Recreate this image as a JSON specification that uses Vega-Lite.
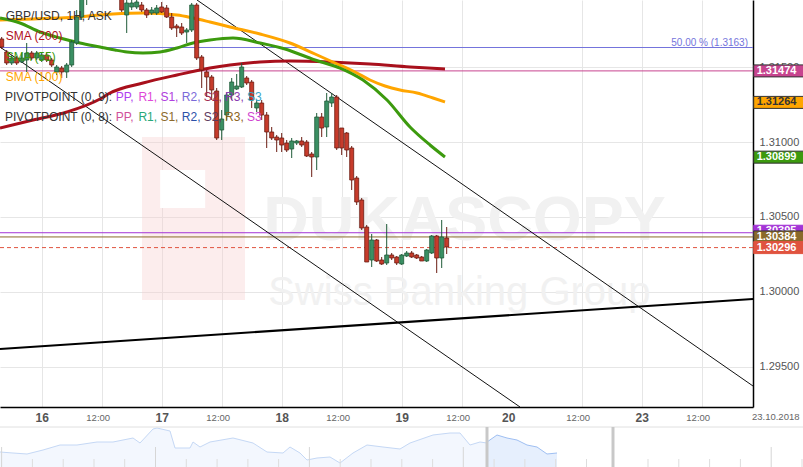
{
"$schema": "https://vega.github.io/schema/vega-lite/v6.json",
"width": 753, "height": 407,
"autosize": {"type": "none"},
"padding": {"left": 0, "top": 0, "right": 50, "bottom": 60},
"background": "white",
"config": {"view": {"stroke": null}, "font": "Liberation Sans"},
"datasets": {
"candles": [
{"h":-8,"o":1.316867,"hi":1.317,"lo":1.3162,"c":1.316333},
{"h":-7,"o":1.316,"hi":1.316133,"lo":1.315133,"c":1.315267},
{"h":-6,"o":1.315267,"hi":1.3158,"lo":1.315133,"c":1.3156},
{"h":-5,"o":1.3156,"hi":1.315733,"lo":1.315133,"c":1.315267},
{"h":-4,"o":1.315333,"hi":1.315933,"lo":1.315267,"c":1.3156},
{"h":-3,"o":1.315467,"hi":1.3166,"lo":1.314667,"c":1.315933},
{"h":-2,"o":1.315933,"hi":1.316067,"lo":1.315467,"c":1.3156},
{"h":-1,"o":1.3156,"hi":1.316067,"lo":1.315467,"c":1.315933},
{"h":0,"o":1.315467,"hi":1.315933,"lo":1.315333,"c":1.3158},
{"h":1,"o":1.3158,"hi":1.315933,"lo":1.315333,"c":1.315467},
{"h":2,"o":1.315467,"hi":1.3156,"lo":1.315,"c":1.315133},
{"h":3,"o":1.314667,"hi":1.315133,"lo":1.314467,"c":1.315},
{"h":4,"o":1.314933,"hi":1.315067,"lo":1.314267,"c":1.314667},
{"h":5,"o":1.314667,"hi":1.315267,"lo":1.314267,"c":1.315133},
{"h":6,"o":1.315133,"hi":1.3168,"lo":1.315,"c":1.316667},
{"h":7,"o":1.3166,"hi":1.3188,"lo":1.316467,"c":1.318333},
{"h":8,"o":1.318333,"hi":1.320467,"lo":1.318133,"c":1.3198},
{"h":9,"o":1.3198,"hi":1.321467,"lo":1.319133,"c":1.3208},
{"h":10,"o":1.3208,"hi":1.3218,"lo":1.3203,"c":1.3212},
{"h":11,"o":1.3212,"hi":1.3216,"lo":1.3202,"c":1.3207},
{"h":12,"o":1.3207,"hi":1.3219,"lo":1.3204,"c":1.3214},
{"h":13,"o":1.3214,"hi":1.3217,"lo":1.3203,"c":1.3209},
{"h":14,"o":1.3209,"hi":1.3215,"lo":1.3201,"c":1.3211},
{"h":15,"o":1.3211,"hi":1.3213,"lo":1.3197,"c":1.32},
{"h":16,"o":1.3198,"hi":1.320133,"lo":1.318667,"c":1.3188},
{"h":17,"o":1.318467,"hi":1.319667,"lo":1.317267,"c":1.319267},
{"h":18,"o":1.319,"hi":1.319467,"lo":1.3188,"c":1.319267},
{"h":19,"o":1.319,"hi":1.319467,"lo":1.318867,"c":1.319333},
{"h":20,"o":1.319133,"hi":1.319333,"lo":1.318667,"c":1.3188},
{"h":21,"o":1.3188,"hi":1.318933,"lo":1.318267,"c":1.318467},
{"h":22,"o":1.3186,"hi":1.319,"lo":1.318467,"c":1.3188},
{"h":23,"o":1.3186,"hi":1.319133,"lo":1.318467,"c":1.318933},
{"h":24,"o":1.319,"hi":1.319333,"lo":1.3186,"c":1.318667},
{"h":25,"o":1.318933,"hi":1.319133,"lo":1.318267,"c":1.318333},
{"h":26,"o":1.318333,"hi":1.3186,"lo":1.317467,"c":1.3176},
{"h":27,"o":1.317733,"hi":1.317867,"lo":1.317,"c":1.3176},
{"h":28,"o":1.317667,"hi":1.317933,"lo":1.317133,"c":1.317267},
{"h":29,"o":1.317333,"hi":1.3176,"lo":1.3166,"c":1.317467},
{"h":30,"o":1.317467,"hi":1.319267,"lo":1.317333,"c":1.319133},
{"h":31,"o":1.319133,"hi":1.319267,"lo":1.315467,"c":1.3156},
{"h":32,"o":1.315667,"hi":1.3158,"lo":1.3136,"c":1.3148},
{"h":33,"o":1.314667,"hi":1.3148,"lo":1.313,"c":1.314333},
{"h":34,"o":1.314333,"hi":1.314467,"lo":1.3128,"c":1.313467},
{"h":35,"o":1.3134,"hi":1.3136,"lo":1.310133,"c":1.310267},
{"h":36,"o":1.3108,"hi":1.312133,"lo":1.310133,"c":1.311533},
{"h":37,"o":1.3118,"hi":1.313267,"lo":1.311467,"c":1.313133},
{"h":38,"o":1.313133,"hi":1.314267,"lo":1.3128,"c":1.314},
{"h":39,"o":1.313533,"hi":1.314533,"lo":1.313467,"c":1.313733},
{"h":40,"o":1.313667,"hi":1.315267,"lo":1.3136,"c":1.315},
{"h":41,"o":1.314267,"hi":1.3144,"lo":1.3138,"c":1.313933},
{"h":42,"o":1.314,"hi":1.314133,"lo":1.312267,"c":1.3128},
{"h":43,"o":1.312267,"hi":1.3128,"lo":1.312,"c":1.3126},
{"h":44,"o":1.3126,"hi":1.3128,"lo":1.311467,"c":1.3118},
{"h":45,"o":1.3118,"hi":1.312,"lo":1.3096,"c":1.310667},
{"h":46,"o":1.310667,"hi":1.311,"lo":1.310133,"c":1.310267},
{"h":47,"o":1.310333,"hi":1.310467,"lo":1.309333,"c":1.310133},
{"h":48,"o":1.310267,"hi":1.3106,"lo":1.309333,"c":1.3098},
{"h":49,"o":1.309933,"hi":1.310133,"lo":1.309333,"c":1.309467},
{"h":50,"o":1.309533,"hi":1.310267,"lo":1.308933,"c":1.310067},
{"h":51,"o":1.309933,"hi":1.310133,"lo":1.3098,"c":1.310067},
{"h":52,"o":1.310067,"hi":1.310333,"lo":1.309667,"c":1.3098},
{"h":53,"o":1.31,"hi":1.310133,"lo":1.309,"c":1.309067},
{"h":54,"o":1.3092,"hi":1.309333,"lo":1.307667,"c":1.309},
{"h":55,"o":1.309,"hi":1.311933,"lo":1.308133,"c":1.311667},
{"h":56,"o":1.311667,"hi":1.311933,"lo":1.310333,"c":1.310933},
{"h":57,"o":1.311,"hi":1.313267,"lo":1.310333,"c":1.312733},
{"h":58,"o":1.3126,"hi":1.313267,"lo":1.312333,"c":1.313},
{"h":59,"o":1.313,"hi":1.313133,"lo":1.309467,"c":1.3096},
{"h":60,"o":1.310933,"hi":1.310933,"lo":1.309133,"c":1.3096},
{"h":61,"o":1.3106,"hi":1.310667,"lo":1.309,"c":1.309467},
{"h":62,"o":1.3096,"hi":1.309733,"lo":1.3068,"c":1.307467},
{"h":63,"o":1.3076,"hi":1.307733,"lo":1.3058,"c":1.306},
{"h":64,"o":1.306133,"hi":1.306267,"lo":1.304133,"c":1.304267},
{"h":65,"o":1.304333,"hi":1.304467,"lo":1.302,"c":1.302},
{"h":66,"o":1.302133,"hi":1.303867,"lo":1.301667,"c":1.303467},
{"h":67,"o":1.303467,"hi":1.303533,"lo":1.302,"c":1.302067},
{"h":68,"o":1.302133,"hi":1.302333,"lo":1.3018,"c":1.301867},
{"h":69,"o":1.301933,"hi":1.304533,"lo":1.3018,"c":1.302467},
{"h":70,"o":1.302467,"hi":1.3026,"lo":1.302133,"c":1.302267},
{"h":71,"o":1.302333,"hi":1.3024,"lo":1.3018,"c":1.301933},
{"h":72,"o":1.301867,"hi":1.302533,"lo":1.3018,"c":1.302467},
{"h":73,"o":1.3024,"hi":1.302733,"lo":1.302333,"c":1.3026},
{"h":74,"o":1.3026,"hi":1.302733,"lo":1.302267,"c":1.302333},
{"h":75,"o":1.302467,"hi":1.302533,"lo":1.3022,"c":1.302267},
{"h":76,"o":1.302333,"hi":1.3024,"lo":1.302067,"c":1.302067},
{"h":77,"o":1.302067,"hi":1.302867,"lo":1.302,"c":1.3028},
{"h":78,"o":1.3026,"hi":1.3038,"lo":1.302533,"c":1.303733},
{"h":79,"o":1.303733,"hi":1.3038,"lo":1.301267,"c":1.302267},
{"h":80,"o":1.302267,"hi":1.3048,"lo":1.3016,"c":1.303667},
{"h":81,"o":1.3036,"hi":1.304333,"lo":1.302533,"c":1.303}
],
"sma100": [
{"h":-8.34,"p":1.318133},{"h":-1.74,"p":1.3182},{"h":7.06,"p":1.318333},{"h":14.26,"p":1.318533},{"h":20.26,"p":1.3186},{"h":27.06,"p":1.318467},{"h":30.26,"p":1.318267},{"h":33.66,"p":1.318},{"h":37.66,"p":1.317667},{"h":43.66,"p":1.3172},{"h":49.66,"p":1.3166},{"h":54.66,"p":1.315867},{"h":58.66,"p":1.315267},{"h":62.66,"p":1.314667},{"h":65.66,"p":1.314133},{"h":68.66,"p":1.313733},{"h":71.66,"p":1.313467},{"h":75.06,"p":1.313267},{"h":78.26,"p":1.312933},{"h":80.66,"p":1.312667}
],
"sma55": [
{"h":-8.34,"p":1.318267},{"h":-4.34,"p":1.317933},{"h":-0.34,"p":1.317333},{"h":3.66,"p":1.316933},{"h":7.66,"p":1.3166},{"h":11.66,"p":1.316333},{"h":14.66,"p":1.316133},{"h":17.06,"p":1.316},{"h":20.26,"p":1.315933},{"h":23.66,"p":1.316},{"h":27.06,"p":1.316267},{"h":30.26,"p":1.3166},{"h":33.66,"p":1.3168},{"h":38.26,"p":1.316933},{"h":43.66,"p":1.3166},{"h":48.66,"p":1.3162},{"h":54.66,"p":1.315467},{"h":59.66,"p":1.314933},{"h":64.26,"p":1.314133},{"h":69.06,"p":1.3128},{"h":73.66,"p":1.311},{"h":77.66,"p":1.3098},{"h":80.66,"p":1.309}
],
"sma200": [
{"h":-8.34,"p":1.310933},{"h":-1.74,"p":1.311467},{"h":5.06,"p":1.312},{"h":11.66,"p":1.312867},{"h":13.66,"p":1.313267},{"h":20.26,"p":1.313933},{"h":27.06,"p":1.314467},{"h":33.66,"p":1.314933},{"h":37.66,"p":1.315133},{"h":43.66,"p":1.315333},{"h":49.66,"p":1.3154},{"h":57.66,"p":1.315333},{"h":65.66,"p":1.3152},{"h":73.66,"p":1.315},{"h":80.66,"p":1.314867}
],
"trendLower": [{"h":-8.34,"p":1.316333},{"h":95.66,"p":1.292333}],
"trendUpper": [{"h":31.06,"p":1.319467},{"h":142.26,"p":1.293733}],
"support": [{"h":-8.34,"p":1.2962},{"h":142.26,"p":1.299533}],
"levels": [
{"name":"Fib 50%","value":1.3163},
{"name":"PP (0, 8)","value":1.31474},
{"name":"PP (0, 9)","value":1.30395},
{"name":"S1 (0, 8)","value":1.30367},
{"name":"Price","value":1.30296}
],
"tags": [
{"name":"PP (0, 8)","value":1.31474,"label":"1.31474"},
{"name":"SMA (100)","value":1.31264,"label":"1.31264"},
{"name":"SMA (55)","value":1.30899,"label":"1.30899"},
{"name":"S1 (0, 8)","value":1.30367,"label":"1.30384"},
{"name":"Price","value":1.30296,"label":"1.30296"}
],
"tagsBehind": [
{"name":"PP (0, 9)","value":1.30405,"label":"1.30395"}
],
"navPast": [
{"t":0,"v":15},{"t":13,"v":14},{"t":27,"v":13},{"t":43,"v":17},{"t":60,"v":22},{"t":77,"v":22},{"t":97,"v":25},{"t":113,"v":25},{"t":133,"v":29},{"t":140,"v":24},{"t":153,"v":38},{"t":157,"v":39},{"t":170,"v":36},{"t":175,"v":19},{"t":190,"v":19},{"t":193,"v":25},{"t":200,"v":20},{"t":210,"v":25},{"t":233,"v":29},{"t":253,"v":24},{"t":267,"v":15},{"t":283,"v":14},{"t":290,"v":20},{"t":300,"v":14},{"t":307,"v":7},{"t":317,"v":9},{"t":330,"v":10},{"t":340,"v":4},{"t":353,"v":14},{"t":367,"v":22},{"t":383,"v":20},{"t":400,"v":18},{"t":410,"v":24},{"t":433,"v":32},{"t":450,"v":34},{"t":460,"v":34},{"t":470,"v":22},{"t":480,"v":25},{"t":487,"v":24}
],
"navWindow": [
{"t":487,"v":25},{"t":497,"v":32},{"t":507,"v":29},{"t":517,"v":27},{"t":527,"v":22},{"t":537,"v":20},{"t":547,"v":13},{"t":557,"v":14}
],
"navTicksShort": [{"t":32.4},{"t":63.2},{"t":94},{"t":124.7},{"t":186.3},{"t":217.1},{"t":247.9},{"t":278.6},{"t":340.2},{"t":371},{"t":401.8},{"t":432.6},{"t":494.1},{"t":524.9},{"t":555.7},{"t":586.5},{"t":648},{"t":678.8},{"t":709.6},{"t":740.4},{"t":802}],
"navTicksTall": [{"t":1.6},{"t":155.5},{"t":309.4},{"t":463.3},{"t":771.2}],
"navBars": [{"t":487},{"t":613}]
},
"layer": [
{
"layer": [
{
"data": {"name": "candles"},
"mark": {"type": "rule", "opacity": 0},
"encoding": {
"x": {"field": "h", "type": "quantitative", "scale": {"domain": [-8.34, 142.26], "nice": false, "zero": false, "padding": 0},
 "axis": {"title": null, "orient": "bottom", "values": [0, 12, 24, 36, 48, 60, 72, 84, 93.3, 108, 120, 132],
  "labelExpr": "datum.value == 0 ? '16' : datum.value == 24 ? '17' : datum.value == 48 ? '18' : datum.value == 72 ? '19' : datum.value == 120 ? '23' : (datum.value > 93 && datum.value < 94) ? '20' : '12:00'",
  "ticks": false, "domainColor": "#000", "domainWidth": 1.5, "labelPadding": 5, "labelFlush": false, "labelOverlap": false,
  "labelFont": "Liberation Sans",
  "labelFontSize": {"condition": {"test": "datum.value % 24 == 12", "value": 9.5}, "value": 12},
  "labelFontWeight": {"condition": {"test": "datum.value % 24 == 12", "value": "normal"}, "value": "bold"},
  "labelColor": {"condition": {"test": "datum.value % 24 == 12", "value": "#666"}, "value": "#555"},
  "labelOffset": {"condition": {"test": "datum.value % 24 == 12", "value": -4}, "value": 0},
  "gridColor": {"condition": {"test": "datum.value > 93 && datum.value < 94", "value": "rgba(0,0,0,0)"}, "value": "#e6e6e6"},
  "grid": true}},
"y": {"field": "lo", "type": "quantitative", "scale": {"domain": [1.292333, 1.319467], "nice": false, "zero": false, "padding": 0},
 "axis": {"title": null, "orient": "right", "values": [1.295, 1.3, 1.305, 1.31, 1.315], "format": ".5f",
  "ticks": false, "domainColor": "#000", "domainWidth": 1.5, "labelPadding": 6, "labelFontSize": 11,
  "labelFont": "Liberation Sans", "labelColor": "#555", "labelAlign": "left", "labelBaseline": "middle",
  "gridColor": "#e6e6e6", "grid": true}}
}
},
{
"data": {"values": [{}]},
"mark": {"type": "rect", "fill": "#f6cccc", "opacity": 0.35},
"encoding": {"x": {"datum": 20.06}, "x2": {"datum": 40.66}, "y": {"datum": 1.310333}, "y2": {"datum": 1.299467}}
},
{
"data": {"values": [{}]},
"mark": {"type": "rect", "fill": "#ffffff"},
"encoding": {"x": {"datum": 23.7}, "x2": {"datum": 32.7}, "y": {"datum": 1.308133}, "y2": {"datum": 1.3056}}
},
{
"data": {"values": [{}]},
"mark": {"type": "text", "text": "DUKASCOPY", "font": "Liberation Sans", "fontWeight": "bold", "fontSize": 63, "color": "#f1f1f1", "align": "left", "baseline": "alphabetic"},
"encoding": {"x": {"datum": 44.3}, "y": {"datum": 1.303467}}
},
{
"data": {"values": [{}]},
"mark": {"type": "text", "text": "Swiss Banking Group", "font": "Liberation Sans", "fontSize": 40, "color": "#f1f1f1", "align": "left", "baseline": "alphabetic"},
"encoding": {"x": {"datum": 45.3}, "y": {"datum": 1.299133}}
},
{
"data": {"name": "levels"},
"mark": {"type": "rule", "strokeWidth": 1},
"encoding": {
"y": {"field": "value", "type": "quantitative"},
"color": {"field": "name", "type": "nominal", "legend": null,
 "scale": {"domain": ["Fib 50%", "PP (0, 8)", "SMA (100)", "SMA (55)", "PP (0, 9)", "S1 (0, 8)", "Price"],
  "range": ["#7474dc", "#c7448f", "#ffa500", "#3c9a0e", "#a334d6", "#8a6a2b", "#e0533f"]}},
"strokeDash": {"condition": {"test": "datum.name == 'Price'", "value": [4, 3]}, "value": [1, 0]}
}
},
{
"data": {"values": [{}]},
"mark": {"type": "text", "text": "50.00 % (1.3163)", "fontSize": 10, "color": "#7474dc", "align": "right", "baseline": "alphabetic"},
"encoding": {"x": {"datum": 141.26}, "y": {"datum": 1.316433}}
},
{
"data": {"name": "trendLower"},
"mark": {"type": "line", "color": "#111", "strokeWidth": 1, "clip": true},
"encoding": {"x": {"field": "h", "type": "quantitative"}, "y": {"field": "p", "type": "quantitative"}}
},
{
"data": {"name": "trendUpper"},
"mark": {"type": "line", "color": "#111", "strokeWidth": 1, "clip": true},
"encoding": {"x": {"field": "h", "type": "quantitative"}, "y": {"field": "p", "type": "quantitative"}}
},
{
"data": {"name": "support"},
"mark": {"type": "line", "color": "#000", "strokeWidth": 2.2, "clip": true},
"encoding": {"x": {"field": "h", "type": "quantitative"}, "y": {"field": "p", "type": "quantitative"}}
},
{
"data": {"name": "sma200"},
"mark": {"type": "line", "color": "#a8101c", "strokeWidth": 3, "interpolate": "monotone"},
"encoding": {"x": {"field": "h", "type": "quantitative"}, "y": {"field": "p", "type": "quantitative"}}
},
{
"data": {"name": "sma100"},
"mark": {"type": "line", "color": "#ffa500", "strokeWidth": 3, "interpolate": "monotone"},
"encoding": {"x": {"field": "h", "type": "quantitative"}, "y": {"field": "p", "type": "quantitative"}}
},
{
"data": {"name": "sma55"},
"mark": {"type": "line", "color": "#3c9a0e", "strokeWidth": 3, "interpolate": "monotone"},
"encoding": {"x": {"field": "h", "type": "quantitative"}, "y": {"field": "p", "type": "quantitative"}}
},
{
"data": {"name": "candles"},
"mark": {"type": "rule", "strokeWidth": 1, "clip": true},
"encoding": {
"x": {"field": "h", "type": "quantitative"},
"y": {"field": "lo", "type": "quantitative"},
"y2": {"field": "hi"},
"color": {"condition": {"test": "datum.c >= datum.o", "value": "#1f5a38"}, "value": "#6a1c12"}
}
},
{
"data": {"name": "candles"},
"mark": {"type": "bar", "size": 4, "strokeWidth": 0.8, "clip": true},
"encoding": {
"x": {"field": "h", "type": "quantitative"},
"y": {"field": "o", "type": "quantitative"},
"y2": {"field": "c"},
"fill": {"condition": {"test": "datum.c >= datum.o", "value": "#3a8f63"}, "value": "#c63b2b"},
"stroke": {"condition": {"test": "datum.c >= datum.o", "value": "#1f5a38"}, "value": "#6a1c12"}
}
},
{"data": {"values": [{}]}, "mark": {"type": "text", "text": "GBP/USD, 1H, ASK", "fontSize": 12, "color": "#333", "align": "left", "baseline": "middle"}, "encoding": {"x": {"datum": -7.2}, "y": {"datum": 1.318433}}},
{"data": {"values": [{}]}, "mark": {"type": "text", "text": "SMA (200)", "fontSize": 12, "color": "#b0101c", "align": "left", "baseline": "middle"}, "encoding": {"x": {"datum": -7.2}, "y": {"datum": 1.317067}}},
{"data": {"values": [{}]}, "mark": {"type": "text", "text": "SMA (55)", "fontSize": 12, "color": "#3c9a0e", "align": "left", "baseline": "middle"}, "encoding": {"x": {"datum": -7.2}, "y": {"datum": 1.3157}}},
{"data": {"values": [{}]}, "mark": {"type": "text", "text": "SMA (100)", "fontSize": 12, "color": "#ffa500", "align": "left", "baseline": "middle"}, "encoding": {"x": {"datum": -7.2}, "y": {"datum": 1.314333}}},
{"data": {"values": [{}]}, "mark": {"type": "text", "text": "PIVOTPOINT (0, 9):", "fontSize": 12, "color": "#333", "align": "left", "baseline": "middle"}, "encoding": {"x": {"datum": -7.34}, "y": {"datum": 1.313}}},
{"data": {"values": [{}]}, "mark": {"type": "text", "text": "PP,", "fontSize": 12, "color": "#b03ef0", "align": "left", "baseline": "middle"}, "encoding": {"x": {"datum": 14.8}, "y": {"datum": 1.313}}},
{"data": {"values": [{}]}, "mark": {"type": "text", "text": "R1,", "fontSize": 12, "color": "#e048d8", "align": "left", "baseline": "middle"}, "encoding": {"x": {"datum": 19.34}, "y": {"datum": 1.313}}},
{"data": {"values": [{}]}, "mark": {"type": "text", "text": "S1,", "fontSize": 12, "color": "#b040e0", "align": "left", "baseline": "middle"}, "encoding": {"x": {"datum": 23.74}, "y": {"datum": 1.313}}},
{"data": {"values": [{}]}, "mark": {"type": "text", "text": "R2,", "fontSize": 12, "color": "#7b6ad8", "align": "left", "baseline": "middle"}, "encoding": {"x": {"datum": 28.02}, "y": {"datum": 1.313}}},
{"data": {"values": [{}]}, "mark": {"type": "text", "text": "S2,", "fontSize": 12, "color": "#a02850", "align": "left", "baseline": "middle"}, "encoding": {"x": {"datum": 32.42}, "y": {"datum": 1.313}}},
{"data": {"values": [{}]}, "mark": {"type": "text", "text": "R3,", "fontSize": 12, "color": "#8a3ab0", "align": "left", "baseline": "middle"}, "encoding": {"x": {"datum": 36.68}, "y": {"datum": 1.313}}},
{"data": {"values": [{}]}, "mark": {"type": "text", "text": "S3", "fontSize": 12, "color": "#3aa5c8", "align": "left", "baseline": "middle"}, "encoding": {"x": {"datum": 41.08}, "y": {"datum": 1.313}}},
{"data": {"values": [{}]}, "mark": {"type": "text", "text": "PIVOTPOINT (0, 8):", "fontSize": 12, "color": "#333", "align": "left", "baseline": "middle"}, "encoding": {"x": {"datum": -7.34}, "y": {"datum": 1.311667}}},
{"data": {"values": [{}]}, "mark": {"type": "text", "text": "PP,", "fontSize": 12, "color": "#d0509a", "align": "left", "baseline": "middle"}, "encoding": {"x": {"datum": 14.8}, "y": {"datum": 1.311667}}},
{"data": {"values": [{}]}, "mark": {"type": "text", "text": "R1,", "fontSize": 12, "color": "#28a878", "align": "left", "baseline": "middle"}, "encoding": {"x": {"datum": 19.34}, "y": {"datum": 1.311667}}},
{"data": {"values": [{}]}, "mark": {"type": "text", "text": "S1,", "fontSize": 12, "color": "#8c6a2c", "align": "left", "baseline": "middle"}, "encoding": {"x": {"datum": 23.74}, "y": {"datum": 1.311667}}},
{"data": {"values": [{}]}, "mark": {"type": "text", "text": "R2,", "fontSize": 12, "color": "#2c50a8", "align": "left", "baseline": "middle"}, "encoding": {"x": {"datum": 28.02}, "y": {"datum": 1.311667}}},
{"data": {"values": [{}]}, "mark": {"type": "text", "text": "S2,", "fontSize": 12, "color": "#5e3a5e", "align": "left", "baseline": "middle"}, "encoding": {"x": {"datum": 32.42}, "y": {"datum": 1.311667}}},
{"data": {"values": [{}]}, "mark": {"type": "text", "text": "R3,", "fontSize": 12, "color": "#8c6420", "align": "left", "baseline": "middle"}, "encoding": {"x": {"datum": 36.68}, "y": {"datum": 1.311667}}},
{"data": {"values": [{}]}, "mark": {"type": "text", "text": "S3", "fontSize": 12, "color": "#d044d0", "align": "left", "baseline": "middle"}, "encoding": {"x": {"datum": 41.08}, "y": {"datum": 1.311667}}},
{
"data": {"name": "tagsBehind"},
"mark": {"type": "bar", "orient": "horizontal", "size": 12, "strokeWidth": 1, "stroke": "#a334d6"},
"encoding": {
"x": {"datum": 142.4}, "x2": {"datum": 152.4},
"y": {"field": "value", "type": "quantitative"},
"color": {"field": "name", "type": "nominal", "legend": null,
 "scale": {"domain": ["Fib 50%", "PP (0, 8)", "SMA (100)", "SMA (55)", "PP (0, 9)", "S1 (0, 8)", "Price"],
  "range": ["#7474dc", "#c7448f", "#ffa500", "#3c9a0e", "#a334d6", "#8a6a2b", "#e0533f"]}}
}
},
{
"data": {"name": "tagsBehind"},
"mark": {"type": "text", "align": "left", "baseline": "middle", "fontSize": 11, "fontWeight": "bold", "color": "#ffffff"},
"encoding": {"x": {"datum": 143.0}, "y": {"field": "value", "type": "quantitative"}, "text": {"field": "label"}}
},
{
"data": {"name": "tags"},
"mark": {"type": "bar", "orient": "horizontal", "size": 12, "strokeWidth": 1},
"encoding": {
"x": {"datum": 142.4}, "x2": {"datum": 152.4},
"y": {"field": "value", "type": "quantitative"},
"color": {"field": "name", "type": "nominal", "legend": null,
 "scale": {"domain": ["Fib 50%", "PP (0, 8)", "SMA (100)", "SMA (55)", "PP (0, 9)", "S1 (0, 8)", "Price"],
  "range": ["#7474dc", "#c7448f", "#ffa500", "#3c9a0e", "#a334d6", "#8a6a2b", "#e0533f"]}},
"stroke": {"condition": {"test": "datum.name == 'Price'", "value": "#e0533f"}, "value": "#333"}
}
},
{
"data": {"name": "tags"},
"mark": {"type": "text", "align": "left", "baseline": "middle", "fontSize": 11, "fontWeight": "bold"},
"encoding": {
"x": {"datum": 143.0},
"y": {"field": "value", "type": "quantitative"},
"text": {"field": "label"},
"color": {"condition": {"test": "datum.name == 'SMA (100)'", "value": "#333"}, "value": "#ffffff"}
}
},
{"data": {"values": [{}]}, "mark": {"type": "text", "text": "23.10.2018", "fontSize": 9.5, "color": "#666", "align": "center", "baseline": "middle"}, "encoding": {"x": {"datum": 146.8}, "y": {"datum": 1.291633}}}
]
},
{
"layer": [
{
"data": {"name": "navPast"},
"mark": {"type": "area", "color": "#eef4fd", "line": {"color": "#c5d8f5", "strokeWidth": 1}},
"encoding": {
"x": {"field": "t", "type": "quantitative", "scale": {"domain": [0, 803], "range": [0, 803], "nice": false, "zero": false}, "axis": null},
"y": {"field": "v", "type": "quantitative", "scale": {"domain": [0, 40], "range": [467, 427], "nice": false}, "axis": null}
}
},
{
"data": {"name": "navWindow"},
"mark": {"type": "area", "color": "#dce8fc", "line": {"color": "#9fbff2", "strokeWidth": 1}},
"encoding": {"x": {"field": "t", "type": "quantitative"}, "y": {"field": "v", "type": "quantitative"}}
},
{
"data": {"values": [{}]},
"mark": {"type": "rule", "color": "#e0e0e0", "strokeWidth": 1},
"encoding": {"x": {"datum": 0}, "x2": {"datum": 803}, "y": {"datum": 40}}
},
{
"data": {"name": "navTicksShort"},
"mark": {"type": "rule", "color": "#dddddd", "strokeWidth": 1},
"encoding": {"x": {"field": "t", "type": "quantitative"}, "y": {"datum": 0}, "y2": {"datum": 8}}
},
{
"data": {"name": "navTicksTall"},
"mark": {"type": "rule", "color": "#d6d6d6", "strokeWidth": 1},
"encoding": {"x": {"field": "t", "type": "quantitative"}, "y": {"datum": 0}, "y2": {"datum": 20}}
},
{
"data": {"name": "navBars"},
"mark": {"type": "rule", "color": "#c8c8c8", "strokeWidth": 3},
"encoding": {"x": {"field": "t", "type": "quantitative"}, "y": {"datum": 0}, "y2": {"datum": 40}}
}
]
}
],
"resolve": {"scale": {"x": "independent", "y": "independent"}, "axis": {"x": "independent", "y": "independent"}}
}
